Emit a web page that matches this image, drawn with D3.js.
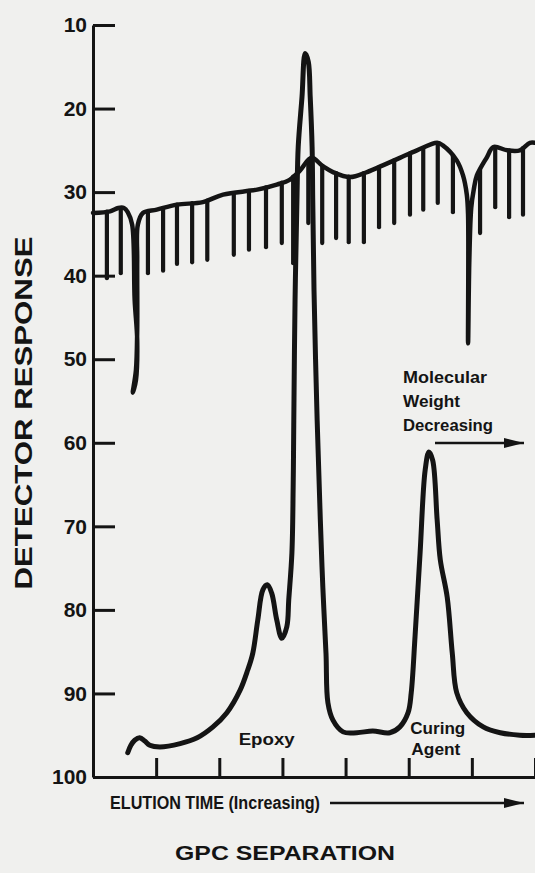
<!DOCTYPE html>
<html>
<head>
<meta charset="utf-8">
<script src="https://cdn.jsdelivr.net/npm/d3@7"></script>
<style>
  html, body { margin: 0; padding: 0; background: #f0f0ee; }
  svg { display: block; }
  text { font-family: "Liberation Sans", Arial, sans-serif; font-weight: bold; fill: #141414; }
</style>
</head>
<body>
<svg id="chart" width="535" height="873"></svg>
<script>
// axis ticks
const yTicks = [10, 20, 30, 40, 50, 60, 70, 80, 90, 100];
const xTicks = [1, 2, 3, 4, 5, 6, 7];

// GPC chromatogram: [elution time, detector response]
const gpcTrace = [
  [0.55, 97.1], [0.60, 96.2], [0.66, 95.6], [0.74, 95.3], [0.82, 95.7], [0.90, 96.2],
  [1.06, 96.4], [1.38, 96.0], [1.65, 95.3], [1.90, 94.0], [2.12, 92.3], [2.33, 89.6],
  [2.45, 87.2], [2.53, 85.2], [2.61, 81.2], [2.69, 77.6], [2.76, 77.0], [2.83, 78.0],
  [2.91, 81.2], [2.99, 83.4], [3.07, 82.0], [3.10, 78.8], [3.15, 73.2], [3.17, 65.3],
  [3.18, 57.3], [3.20, 42.9], [3.23, 30.9], [3.25, 24.6], [3.31, 18.6], [3.36, 13.4],
  [3.41, 14.4], [3.44, 18.6], [3.47, 24.6], [3.48, 30.9], [3.50, 41.7], [3.55, 57.3],
  [3.60, 69.2], [3.64, 77.3], [3.69, 85.2], [3.72, 91.1], [3.80, 93.2], [3.96, 94.6],
  [4.18, 94.7], [4.43, 94.5], [4.70, 94.7], [4.86, 94.0], [4.99, 92.3], [5.04, 89.9],
  [5.10, 83.2], [5.18, 73.2], [5.26, 63.3], [5.32, 61.1], [5.38, 62.1], [5.45, 69.2],
  [5.50, 74.0], [5.61, 78.5], [5.69, 85.2], [5.76, 89.9], [5.92, 92.3], [6.18, 94.0],
  [6.45, 94.7], [6.76, 95.0], [7.00, 95.0]
];

// upper recorder trace (baseline with two spikes)
const refTrace = [
  [0.00, 32.5], [0.27, 32.3], [0.40, 31.9], [0.49, 31.9], [0.55, 32.4], [0.62, 33.9],
  [0.66, 42.9], [0.70, 47.7], [0.68, 52.5], [0.63, 54.0], [0.68, 51.3], [0.70, 46.5],
  [0.70, 38.1], [0.71, 33.9], [0.79, 32.5], [1.01, 32.1], [1.33, 31.5], [1.74, 31.2],
  [2.06, 30.3], [2.60, 29.7], [2.91, 29.1], [3.12, 28.5], [3.28, 27.4], [3.46, 25.9],
  [3.64, 26.9], [3.80, 27.6], [4.07, 28.2], [4.34, 27.6], [4.59, 26.8], [4.86, 25.9],
  [5.13, 25.0], [5.45, 24.1], [5.54, 24.4], [5.76, 26.2], [5.86, 28.0], [5.92, 30.3],
  [5.94, 32.7], [5.94, 48.1], [5.96, 38.1], [5.99, 31.9], [6.03, 29.7], [6.08, 28.0],
  [6.24, 25.8], [6.34, 24.6], [6.56, 25.0], [6.76, 25.0], [6.92, 24.1], [7.00, 24.1]
];

// hatch strokes hanging from the upper trace: [elution time, lower end]
const hatchMarks = [
  [0.22, 40.3], [0.44, 39.7], [0.87, 39.7], [1.11, 39.4], [1.33, 38.6], [1.57, 38.4],
  [1.81, 38.1], [2.23, 37.5], [2.47, 36.9], [2.74, 36.6], [2.99, 36.1], [3.17, 38.5],
  [3.41, 33.7], [3.63, 36.1], [3.85, 35.5], [4.05, 36.0], [4.29, 36.0], [4.53, 34.2],
  [4.77, 33.7], [5.02, 32.7], [5.23, 32.1], [5.46, 31.3], [5.70, 32.4], [6.13, 34.9],
  [6.37, 31.8], [6.59, 33.0], [6.81, 32.7]
];

const peakLabels = [
  { text: 'Epoxy', x: 2.75, y: 96.2, len: 56 },
  { text: 'Curing', x: 5.46, y: 94.8, len: 55 },
  { text: 'Agent', x: 5.43, y: 97.4, len: 49 }
];
const noteLines = ['Molecular', 'Weight', 'Decreasing'];
const noteWidths = [84, 57, 90];

const width = 535;
const height = 873;
const margin = { top: 25, right: 0, bottom: 96, left: 93 };
const ink = '#141414';

const svg = d3.select('#chart');

const x = d3.scaleLinear()
  .domain([0, 7])
  .range([margin.left, width - margin.right]);

const y = d3.scaleLinear()
  .domain([10, 100])
  .range([margin.top, height - margin.bottom]);

// arrow heads
svg.append('defs')
  .append('marker')
    .attr('id', 'arrow')
    .attr('markerUnits', 'userSpaceOnUse')
    .attr('viewBox', '0 0 20 12')
    .attr('refX', 20)
    .attr('refY', 6)
    .attr('markerWidth', 20)
    .attr('markerHeight', 12)
    .attr('orient', 'auto')
  .append('path')
    .attr('d', 'M0,1 L20,6 L0,11 Z')
    .attr('fill', ink);

// ======================= axes ======================= //
const yAxis = svg.append('g')
  .attr('transform', `translate(${margin.left},0)`)
  .call(d3.axisLeft(y)
    .tickValues(yTicks)
    .tickSizeInner(-22)
    .tickSizeOuter(0)
    .tickPadding(6));

yAxis.selectAll('text')
  .style('font-size', '21px')
  .style('font-family', '"Liberation Sans", Arial, sans-serif')
  .style('font-weight', 'bold')
  .attr('fill', ink);

const xAxis = svg.append('g')
  .attr('transform', `translate(0,${height - margin.bottom})`)
  .call(d3.axisBottom(x)
    .tickValues(xTicks)
    .tickSizeInner(-19)
    .tickSizeOuter(0)
    .tickFormat(''));

[yAxis, xAxis].forEach((a) => {
  a.select('.domain').attr('stroke', ink).attr('stroke-width', 3);
  a.selectAll('.tick line').attr('stroke', ink).attr('stroke-width', 3);
});

// ======================= traces ======================= //
const line = d3.line()
  .x(d => x(d[0]))
  .y(d => y(d[1]))
  .curve(d3.curveCatmullRom.alpha(0.5));

// baseline value of the upper trace at a given time
const baseAt = (t) => {
  for (let i = 0; i < refTrace.length - 1; i += 1) {
    const [x0, y0] = refTrace[i];
    const [x1, y1] = refTrace[i + 1];
    if (t >= Math.min(x0, x1) && t <= Math.max(x0, x1) && x0 !== x1) {
      return y0 + ((t - x0) / (x1 - x0)) * (y1 - y0);
    }
  }
  return refTrace[refTrace.length - 1][1];
};

svg.append('g')
  .selectAll('line')
  .data(hatchMarks)
  .enter()
  .append('line')
    .attr('x1', d => x(d[0]))
    .attr('x2', d => x(d[0]))
    .attr('y1', d => y(baseAt(d[0])))
    .attr('y2', d => y(d[1]))
    .attr('stroke', ink)
    .attr('stroke-width', 4.2)
    .attr('stroke-linecap', 'round');

svg.append('path')
  .datum(refTrace)
  .attr('d', line)
  .attr('fill', 'none')
  .attr('stroke', ink)
  .attr('stroke-width', 4.5)
  .attr('stroke-linejoin', 'round')
  .attr('stroke-linecap', 'round');

svg.append('path')
  .datum(gpcTrace)
  .attr('d', line)
  .attr('fill', 'none')
  .attr('stroke', ink)
  .attr('stroke-width', 5)
  .attr('stroke-linejoin', 'round')
  .attr('stroke-linecap', 'round');

// ======================= labels ======================= //
svg.append('g')
  .selectAll('text')
  .data(peakLabels)
  .enter()
  .append('text')
    .attr('x', d => x(d.x))
    .attr('y', d => y(d.y))
    .attr('text-anchor', 'middle')
    .attr('textLength', d => d.len)
    .attr('lengthAdjust', 'spacingAndGlyphs')
    .style('font-size', '16px')
    .text(d => d.text);

svg.append('g')
  .selectAll('text')
  .data(noteLines)
  .enter()
  .append('text')
    .attr('x', 403)
    .attr('y', (d, i) => 383 + i * 24)
    .attr('textLength', (d, i) => noteWidths[i])
    .attr('lengthAdjust', 'spacingAndGlyphs')
    .style('font-size', '17px')
    .text(d => d);

svg.append('line')
  .attr('x1', 435)
  .attr('x2', 524)
  .attr('y1', 443)
  .attr('y2', 443)
  .attr('stroke', ink)
  .attr('stroke-width', 2.5)
  .attr('marker-end', 'url(#arrow)');

svg.append('text')
  .attr('transform', 'translate(32,413) rotate(-90)')
  .attr('text-anchor', 'middle')
  .attr('textLength', 353)
  .attr('lengthAdjust', 'spacingAndGlyphs')
  .style('font-size', '23px')
  .text('DETECTOR RESPONSE');

svg.append('text')
  .attr('x', 110)
  .attr('y', 809)
  .attr('textLength', 210)
  .attr('lengthAdjust', 'spacingAndGlyphs')
  .style('font-size', '18px')
  .text('ELUTION TIME (Increasing)');

svg.append('line')
  .attr('x1', 330)
  .attr('x2', 524)
  .attr('y1', 803)
  .attr('y2', 803)
  .attr('stroke', ink)
  .attr('stroke-width', 2.5)
  .attr('marker-end', 'url(#arrow)');

svg.append('text')
  .attr('x', 285)
  .attr('y', 860)
  .attr('text-anchor', 'middle')
  .attr('textLength', 220)
  .attr('lengthAdjust', 'spacingAndGlyphs')
  .style('font-size', '20px')
  .text('GPC SEPARATION');
</script>
</body>
</html>
